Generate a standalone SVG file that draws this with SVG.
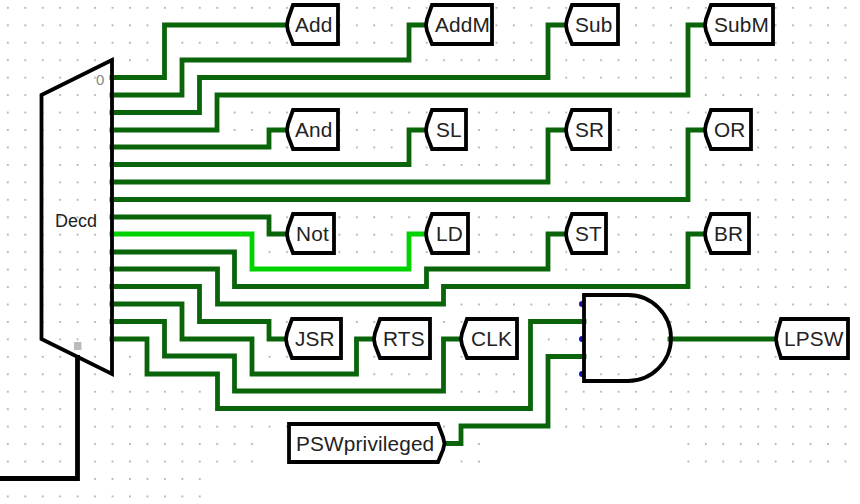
<svg xmlns="http://www.w3.org/2000/svg" width="860" height="504" viewBox="0 0 860 504">
<style>
.w{fill:none;stroke:#0a640a;stroke-width:4.8;stroke-linejoin:miter;stroke-linecap:square}
.hi{stroke:#00d200}
.bus{fill:none;stroke:#000;stroke-width:4.8;stroke-linejoin:miter}
.n{fill:#fff;stroke:#000;stroke-width:3.8;stroke-linejoin:miter}
.o{fill:none;stroke:#000;stroke-width:3.8;stroke-linejoin:miter}
.t{font-family:"Liberation Sans",Arial,sans-serif;font-size:20.8px;letter-spacing:.15px;fill:#222}
</style>
<defs>
<pattern id="grid" x="6.9" y="6.9" width="17.45" height="17.45" patternUnits="userSpaceOnUse"><rect width="1.8" height="1.8" fill="#b0b0b0"/></pattern>
</defs>
<rect width="860" height="504" fill="#fff"/>
<rect width="860" height="504" fill="url(#grid)"/>
<g fill="#fff">
<rect x="208" y="470" width="652" height="34"/>
<rect x="487" y="435" width="193" height="36"/>
<rect x="262" y="435" width="26" height="36"/>
<rect x="438" y="452" width="17" height="18"/>
</g>
<g id="connectors">
<path class="w" d="M112 77.5H164.5V25H288"/>
<path class="w" d="M112 95H182V60H409V25H428"/>
<path class="w" d="M112 112.5H199.5V77.5H548V25H567"/>
<path class="w" d="M112 130H217V95H688V25H707"/>
<path class="w" d="M112 147H269V130H288"/>
<path class="w" d="M112 164.5H409V130H428"/>
<path class="w" d="M112 182H548V130H567"/>
<path class="w" d="M112 199.5H688V130H707"/>
<path class="w" d="M112 217H269V234H288"/>
<path class="w hi" d="M112 234H252V269H409V234H428"/>
<path class="w" d="M112 252H234.5V286.5H426.5V269H548V234H567"/>
<path class="w" d="M112 269H217.5V304H443.5V286.5H688V234H707"/>
<path class="w" d="M112 286.5H199.5V321.5H269V339H288"/>
<path class="w" d="M112 304H182V339H252V374H356.5V339H375"/>
<path class="w" d="M112 321.5H164.5V356H234.5V391H443.5V339H462"/>
<path class="w" d="M112 339H147V374H217.5V408.5H530.5V321.5H584"/>
<path class="w" d="M445 443.5H461V426H548V356.5H584"/>
<path class="w" d="M670 339H777"/>
<path class="bus" d="M77.5 355V478.5H0"/>
</g>
<g id="decoder">
<rect x="74" y="342" width="7.5" height="8" fill="#bbb"/>
<path class="o" d="M112 60L41.5 95V339L112 374Z"/>
<text x="55" y="226.5" font-family="Liberation Sans,Arial,sans-serif" font-size="18" fill="#222">Decd</text>
<text x="96" y="85" font-family="Liberation Sans,Arial,sans-serif" font-size="15" fill="#888">0</text>
</g>
<g id="and-gate">
<g fill="#1414bb"><circle cx="582" cy="304" r="3"/><circle cx="582" cy="339" r="3"/><circle cx="582" cy="374" r="3"/></g>
<path class="o" d="M584 295H628A43 43 0 0 1 628 381H584Z"/>
</g>
<g id="add"><path class="n" d="M293 5H338V44H293L288 31 287 25 288 19Z"/><text class="t" x="295" y="32">Add</text></g>
<g id="addm"><path class="n" d="M432 5H492V44H432L427 31 426 25 427 19Z"/><text class="t" x="435" y="32">AddM</text></g>
<g id="sub"><path class="n" d="M572 5H618V44H572L567 31 566 25 567 19Z"/><text class="t" x="575" y="32">Sub</text></g>
<g id="subm"><path class="n" d="M711 5H773V44H711L706 31 705 25 706 19Z"/><text class="t" x="714" y="32">SubM</text></g>
<g id="and"><path class="n" d="M293 110H338V149H293L288 136 287 130 288 124Z"/><text class="t" x="295" y="137">And</text></g>
<g id="sl"><path class="n" d="M432 110H466V149H432L427 136 426 130 427 124Z"/><text class="t" x="436" y="137">SL</text></g>
<g id="sr"><path class="n" d="M572 110H610V149H572L567 136 566 130 567 124Z"/><text class="t" x="575" y="137">SR</text></g>
<g id="or"><path class="n" d="M711 110H751V149H711L706 136 705 130 706 124Z"/><text class="t" x="714" y="137">OR</text></g>
<g id="not"><path class="n" d="M293 214H334V253H293L288 240 287 234 288 228Z"/><text class="t" x="296" y="241">Not</text></g>
<g id="ld"><path class="n" d="M432 214H468V253H432L427 240 426 234 427 228Z"/><text class="t" x="436" y="241">LD</text></g>
<g id="st"><path class="n" d="M572 214H606V253H572L567 240 566 234 567 228Z"/><text class="t" x="575" y="241">ST</text></g>
<g id="br"><path class="n" d="M711 214H749V253H711L706 240 705 234 706 228Z"/><text class="t" x="714" y="241">BR</text></g>
<g id="jsr"><path class="n" d="M292 319H341V358H292L287 345 286 339 287 333Z"/><text class="t" x="295" y="346">JSR</text></g>
<g id="rts"><path class="n" d="M380 319H430V358H380L375 345 374 339 375 333Z"/><text class="t" x="383" y="346">RTS</text></g>
<g id="clk"><path class="n" d="M467 319H517V358H467L462 345 461 339 462 333Z"/><text class="t" x="471" y="346">CLK</text></g>
<g id="lpsw"><path class="n" d="M781 319H848V358H781L777 345 776 339 777 333Z"/><text class="t" x="784" y="346">LPSW</text></g>
<g id="pswprivileged"><path class="n" d="M289 424H438L443 437 444.5 443.5 443 450 438 462H289Z"/><text class="t" x="296" y="451">PSWprivileged</text></g>
</svg>
